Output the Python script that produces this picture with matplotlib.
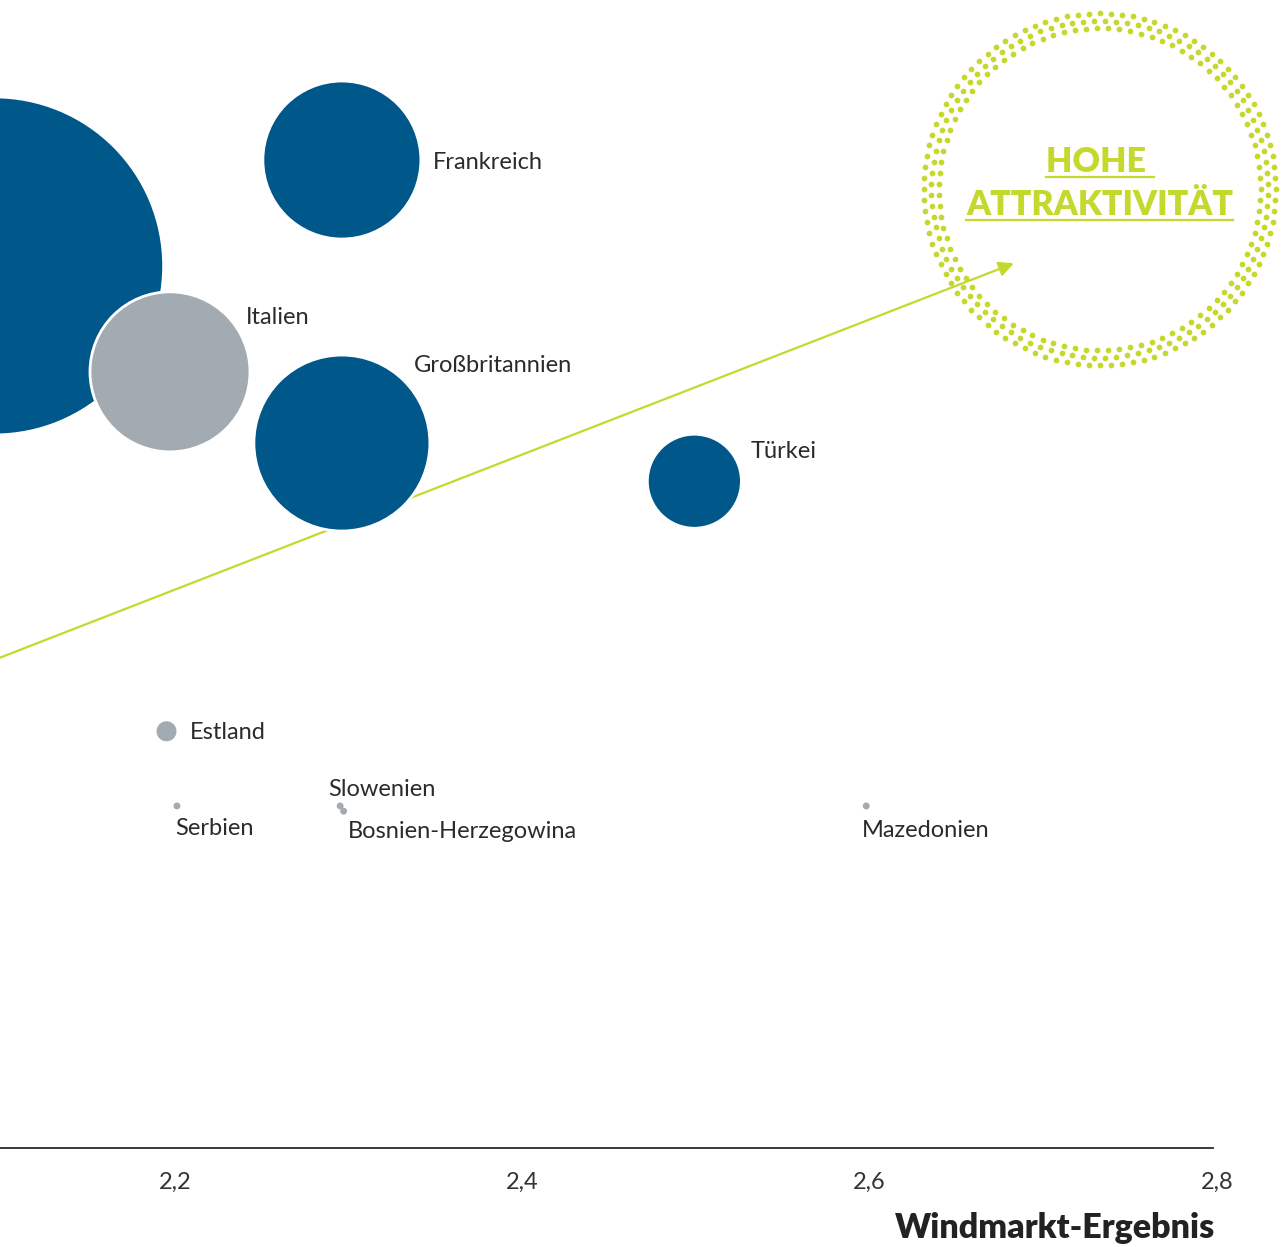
import numpy as np
import matplotlib
matplotlib.use("Agg")
from matplotlib import pyplot as plt
from matplotlib.lines import Line2D

plt.rcParams['font.family'] = ['Lato', 'DejaVu Sans']

# Länder, Windmarkt-Ergebnis (x), Attraktivität (y), Marktgröße (Blasenfläche)
countries = ["Deutschland", "Frankreich", "Italien", "Großbritannien", "Türkei",
             "Estland", "Serbien", "Slowenien", "Bosnien-Herzegowina", "Mazedonien"]
x_vals = [2.096, 2.296, 2.197, 2.296, 2.499, 2.195, 2.201, 2.295, 2.297, 2.598]
y_vals = [2.508, 2.569, 2.447, 2.406, 2.384, 2.240, 2.197, 2.197, 2.194, 2.197]
size_vals = [285.6, 62.4, 64.0, 77.4, 22.1, 1.0, 0.12, 0.12, 0.12, 0.12]
groups = ["blue", "blue", "grey", "blue", "blue", "grey", "grey", "grey", "grey", "grey"]
show_label = [False, True, True, True, True, True, True, True, True, True]
# Versatz der Beschriftung in Pixeln (x nach rechts, y nach oben)
label_offsets = [(0, 0), (91, -2), (76, 54), (72, 78), (56, 30),
                 (23, -1), (-2, -23), (-12, 16), (4, -20), (-4, -25)]

x_ticks = [2.2, 2.4, 2.6, 2.8]
x_ticklabels = ["2,2", "2,4", "2,6", "2,8"]

BLUE = "#00578a"
GREY = "#a2abb2"
LIME = "#c5d82d"
TEXT = "#2b2b2b"

W, H = 1282, 1247
fig = plt.figure(figsize=(W / 100, H / 100), dpi=100)
ax_w = 1217 / W
ax_h = 1148 / H
ax = fig.add_axes([0, 1 - ax_h, ax_w, ax_h])
px_per_unit = 1217 / 0.7009
ax.set_xlim(2.0991, 2.8)
ax.set_ylim(2.0, 2.0 + 1148 / px_per_unit)

for s in ["top", "right", "left"]:
    ax.spines[s].set_visible(False)
ax.spines["bottom"].set_bounds(2.0991, 2.7977)
ax.spines["bottom"].set_color("#2a2a2a")
ax.spines["bottom"].set_linewidth(1.3)
ax.set_yticks([])
ax.set_xticks(x_ticks)
ax.set_xticklabels(x_ticklabels)
ax.tick_params(axis="x", length=0, pad=17, labelsize=17, labelcolor="#333333")

# Trendpfeil
ax.annotate("", xy=(2.683, 2.5095), xytext=(2.0991, 2.2824),
            arrowprops=dict(arrowstyle="-|>,head_length=0.9,head_width=0.45",
                            color=LIME, lw=1.6, shrinkA=0, shrinkB=0),
            zorder=1, annotation_clip=False)

# Blasen (Radius in px = 10*sqrt(Wert))
sizes = [(2 * 10 * np.sqrt(v) * 0.72) ** 2 for v in size_vals]
colors = [BLUE if g == "blue" else GREY for g in groups]
edge_w = [2 if v > 5 else 0 for v in size_vals]
ax.scatter(x_vals, y_vals, s=sizes, c=colors, edgecolors="white",
           linewidths=edge_w, zorder=2)

for name, x, y, show, off in zip(countries, x_vals, y_vals, show_label, label_offsets):
    if show:
        ax.annotate(name, xy=(x, y), xytext=off, textcoords="offset pixels",
                    ha="left", va="center", fontsize=17, color=TEXT, zorder=3)

# gepunkteter Ring "Hohe Attraktivität"
cx, cy = 2.7325, 2.5522
ring_radii = [176, 168.5, 161]
for i, r in enumerate(ring_radii):
    n = int(2 * np.pi * r / 11)
    ang = np.linspace(0, 2 * np.pi, n, endpoint=False) + i * 0.5 * (2 * np.pi / n)
    rx = cx + r / px_per_unit * np.cos(ang)
    ry = cy + r / px_per_unit * np.sin(ang)
    ax.scatter(rx, ry, s=17, c=LIME, linewidths=0, clip_on=False, zorder=2)

t1 = ax.text(cx, 2.0 + (1148 - 162) / px_per_unit, "HOHE ", ha="center", va="center",
             fontsize=24.5, fontweight="heavy", color=LIME)
t2 = ax.text(cx, 2.0 + (1148 - 205) / px_per_unit, "ATTRAKTIVITÄT", ha="center",
             va="center", fontsize=24.5, fontweight="heavy", color=LIME)

fig.text(1215 / W, 1 - 1228 / H, "Windmarkt-Ergebnis", ha="right", va="center",
         fontsize=24.5, fontweight="heavy", color="#222222")

# Unterstreichungen
fig.canvas.draw()
r = fig.canvas.get_renderer()
for t in (t1, t2):
    bb = t.get_window_extent(r)
    yline = bb.y0 + 1
    fig.add_artist(Line2D([bb.x0 / W, bb.x1 / W], [yline / H, yline / H],
                          color=LIME, lw=1.6))

fig.savefig("out.png", dpi=100)
